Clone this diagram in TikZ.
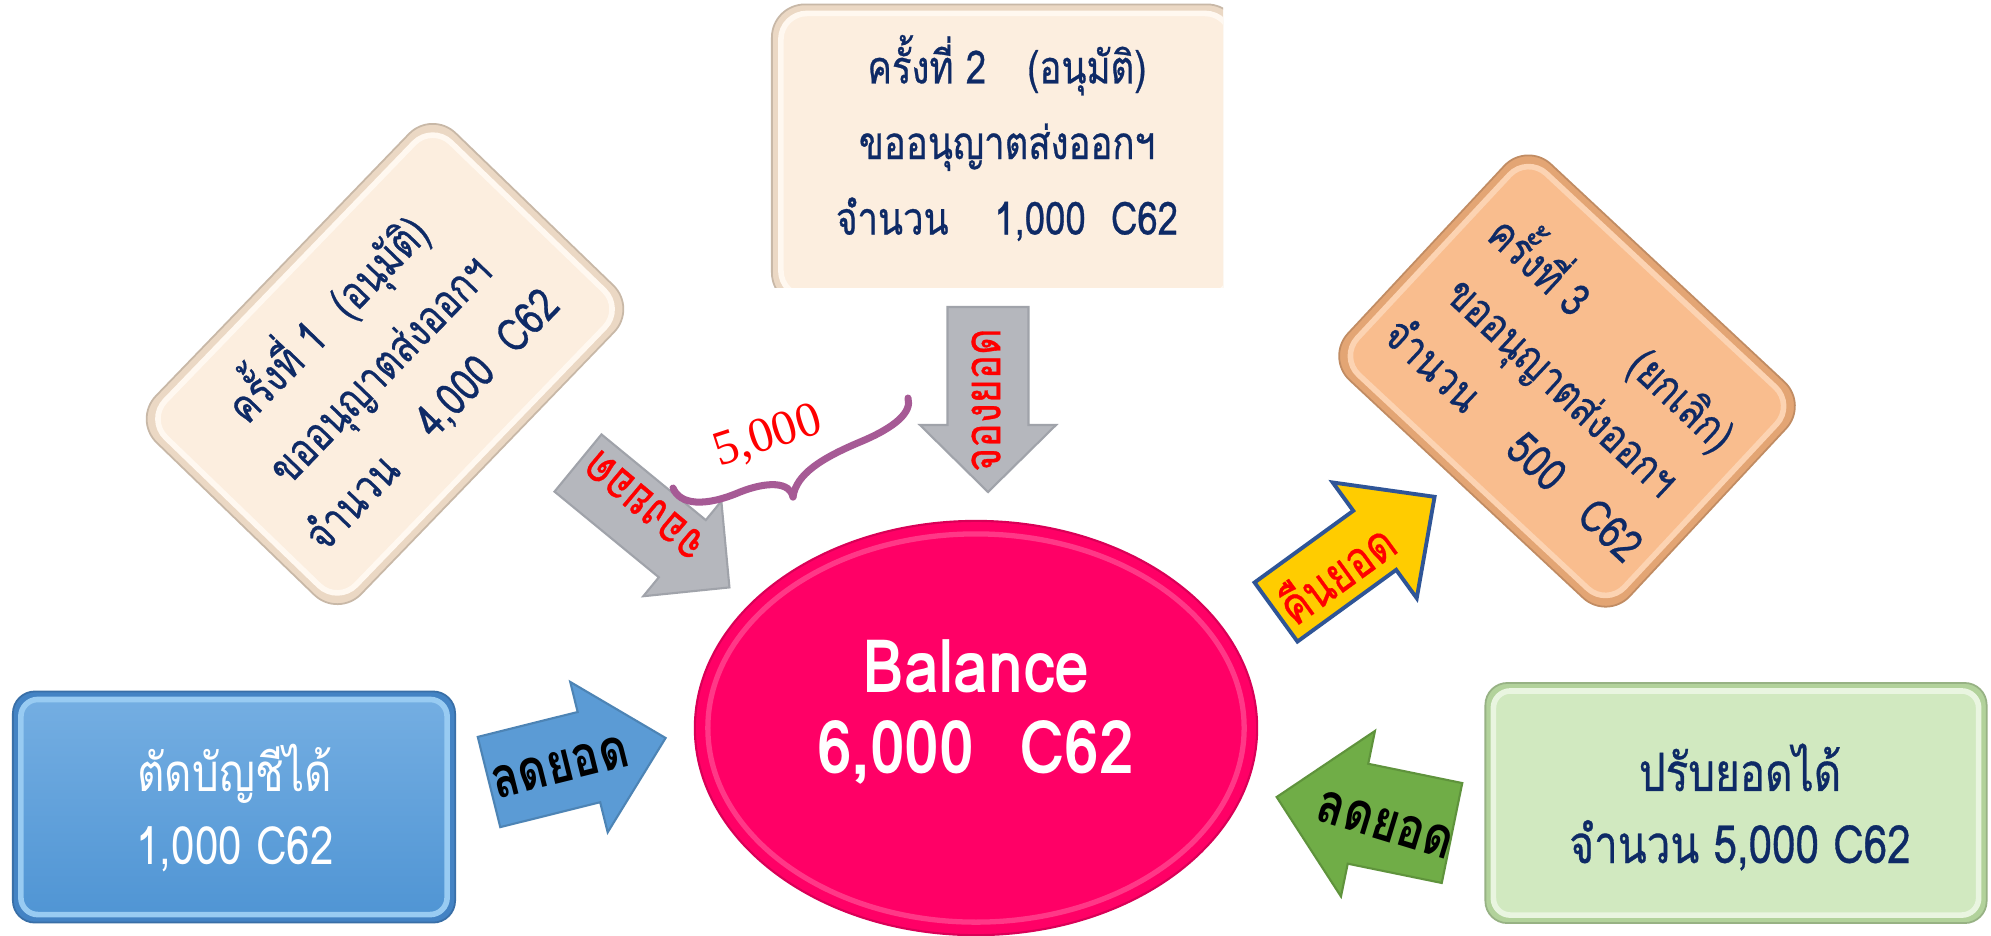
\documentclass[tikz,border=0pt]{standalone}
\usepackage{fontspec}
\newfontfamily\thai[Script=Thai, FakeStretch=0.8]{Loma}
\newfontfamily\thaimed[Script=Thai, FakeStretch=0.8, FakeBold=0.6]{Loma}
\newfontfamily\thaiwide[Script=Thai, FakeStretch=0.85]{Loma}
\newfontfamily\tnr{Liberation Serif}
\usetikzlibrary{shapes.geometric}
\definecolor{navy}{HTML}{0E2A66}
\definecolor{creamout}{HTML}{EBD8C4}
\definecolor{creamin}{HTML}{FCEEDF}
\definecolor{creamrim}{HTML}{FFF8F0}
\definecolor{peachout}{HTML}{E3A574}
\definecolor{peachin}{HTML}{F9BD8E}
\definecolor{peachrim}{HTML}{FCD3B2}
\definecolor{blueout}{HTML}{4383C4}
\definecolor{bluetop}{HTML}{74AEE2}
\definecolor{bluebot}{HTML}{5095D4}
\definecolor{bluerim}{HTML}{98CBF2}
\definecolor{greenout}{HTML}{B2D29B}
\definecolor{greenin}{HTML}{D1E9C0}
\definecolor{greenrim}{HTML}{E9F5E0}
\definecolor{balpink}{HTML}{FF0066}
\definecolor{grayarr}{HTML}{B5B7BD}
\definecolor{grayedge}{HTML}{A0A3AA}
\definecolor{bluearr}{HTML}{5B9BD5}
\definecolor{greenarr}{HTML}{70AD47}
\definecolor{yellowarr}{HTML}{FFCC00}
\definecolor{yellowedge}{HTML}{2F5597}
\definecolor{bracecol}{HTML}{A65A95}
\newcommand\myblockarrow[8]{%
  \begin{scope}[shift={(#1,#2)}, rotate=#3]
    \path[#8] (0,-#5/2) -- (#4-#7,-#5/2) -- (#4-#7,-#6/2) -- (#4,0)
      -- (#4-#7,#6/2) -- (#4-#7,#5/2) -- (0,#5/2) -- cycle;
  \end{scope}}
\begin{document}
\begin{tikzpicture}[x=0.01cm,y=-0.01cm,
  outerbox/.style={rounded corners=0.33cm, fill=#1, draw=#1!85!black, line width=0.5pt, inner sep=0pt},
  innerbox/.style={rounded corners=0.26cm, draw=#1, line width=1.6pt, inner sep=0pt},
  boxtext/.style={font=\thaimed\fontsize{13}{20.5}\selectfont, text=navy, align=center},
  bigtext/.style={font=\thai\fontsize{15}{20.5}\selectfont, align=center},
  arrlabel/.style={font=\thai\bfseries\fontsize{16}{18}\selectfont},
  redlabel/.style={font=\thaimed\fontsize{14.5}{18}\selectfont, text=red},
  grayarrow/.style={fill=grayarr, draw=grayedge, line width=0.6pt},
  bluearrow/.style={fill=bluearr, draw=bluearr!85!black, line width=0.6pt},
  greenarrow/.style={fill=greenarr, draw=greenarr!85!black, line width=0.6pt},
  yellowarrow/.style={fill=yellowarr, draw=yellowedge, line width=1.1pt}]
\useasboundingbox (0,0) rectangle (1991,935);
\fill[white] (0,0) rectangle (1991,935);

% top middle box (cut at right and bottom)
\begin{scope}
  \clip (700,0) rectangle (1223,287);
  \node[outerbox=creamout, minimum width=4.68cm, minimum height=3.01cm] (box2) at (1006,155) {};
  \node[innerbox=creamrim, fill=creamin, minimum width=4.50cm, minimum height=2.83cm] (box2in) at (1006,155) {};
\end{scope}
\node[boxtext, font=\thaimed\fontsize{13}{21.5}\selectfont] (box2text) at (1007,138) {ครั้งที่ 2\hspace{0.9em}(อนุมัติ)\\ขออนุญาตส่งออกฯ\\จำนวน\hspace{1.0em}1,000\hspace{0.55em}C62};

% left tilted box
\node[outerbox=creamout, rotate=46, minimum width=4.30cm, minimum height=2.85cm] (box1) at (385,364) {};
\node[innerbox=creamrim, fill=creamin, rotate=46, minimum width=4.10cm, minimum height=2.65cm] (box1in) at (box1.center) {};
\node[boxtext, rotate=46] (box1text) at (376,366) {ครั้งที่ 1\hspace{0.6em}(อนุมัติ)\\ขออนุญาตส่งออกฯ\\จำนวน\hspace{1.0em}4,000\hspace{0.55em}C62};

% right tilted box
\node[outerbox=peachout, rotate=-43, minimum width=3.85cm, minimum height=2.95cm] (box3) at (1567,381) {};
\node[innerbox=peachrim, fill=peachin, rotate=-43, minimum width=3.65cm, minimum height=2.75cm] (box3in) at (box3.center) {};
\node[boxtext, rotate=-43] (box3text) at (1568,381) {ครั้งที่ 3\hspace{1.6em}(ยกเลิก)\\ขออนุญาตส่งออกฯ\\จำนวน\hspace{1.2em}500\hspace{0.8em}C62};

% bottom left blue box
\node[outerbox=blueout, rounded corners=0.22cm, minimum width=4.42cm, minimum height=2.31cm] (box4) at (234,807) {};
\node[innerbox=bluerim, rounded corners=0.17cm, top color=bluetop, bottom color=bluebot, minimum width=4.26cm, minimum height=2.15cm] (box4in) at (box4.center) {};
\node[bigtext, text=white] (box4text) at (235,808) {ตัดบัญชีได้\\1,000 C62};

% bottom right green box
\node[outerbox=greenout, rounded corners=0.22cm, minimum width=5.01cm, minimum height=2.40cm] (box5) at (1736,803) {};
\node[innerbox=greenrim, rounded corners=0.17cm, fill=greenin, minimum width=4.85cm, minimum height=2.24cm] (box5in) at (box5.center) {};
\node[bigtext, font=\thaimed\fontsize{15}{20.5}\selectfont, text=navy] (box5text) at (1740,807) {ปรับยอดได้\\จำนวน 5,000 C62};

% central ellipse
\node[ellipse, fill=balpink, draw=balpink!85!black, line width=0.6pt, minimum width=5.62cm, minimum height=4.14cm, inner sep=0pt] (bal) at (976,728) {};
\draw[white, opacity=0.22, line width=1.5pt] (bal.center) ellipse [x radius=2.68cm, y radius=1.94cm];
\node[font=\thaiwide\bfseries\fontsize{21}{23}\selectfont, text=white, align=center] (baltext) at (976,712) {Balance\\6,000\hspace{0.6em}C62};

% block arrows
\myblockarrow{578}{463}{-39.4}{196}{74}{123}{61}{grayarrow}
\myblockarrow{988}{307}{-90}{185}{81}{136}{67}{grayarrow}
\myblockarrow{489}{782}{14}{182}{93}{155}{79}{bluearrow}
\myblockarrow{1452}{833}{168.4}{179}{102}{169}{83}{greenarrow}
\myblockarrow{1276}{612}{36}{196}{73}{143}{74}{yellowarrow}

% arrow labels
\node[redlabel, rotate=140] (lblgray1) at (645,505) {จองยอด};
\node[redlabel, rotate=90] (lblgray2) at (986,400) {จองยอด};
\node[arrlabel, rotate=14] (lblblue) at (560,767) {ลดยอด};
\node[arrlabel, rotate=-17] (lblgreen) at (1385,825) {ลดยอด};
\node[redlabel, rotate=36] (lblyellow) at (1335,572) {คืนยอด};

% brace with 5,000
\draw[bracecol, line width=2pt, line cap=round]
  (673,488) .. controls (680,505) and (705,507) .. (740,492)
  .. controls (768,481) and (790,482) .. (793,497);
\draw[bracecol, line width=2pt, line cap=round]
  (793,497) .. controls (796,474) and (822,458) .. (860,442)
  .. controls (896,427) and (912,412) .. (908,398);
\node[font=\tnr\fontsize{14}{16}\selectfont, text=red, rotate=18] (lbl5000) at (768,437) {5,000};
\end{tikzpicture}
\end{document}
